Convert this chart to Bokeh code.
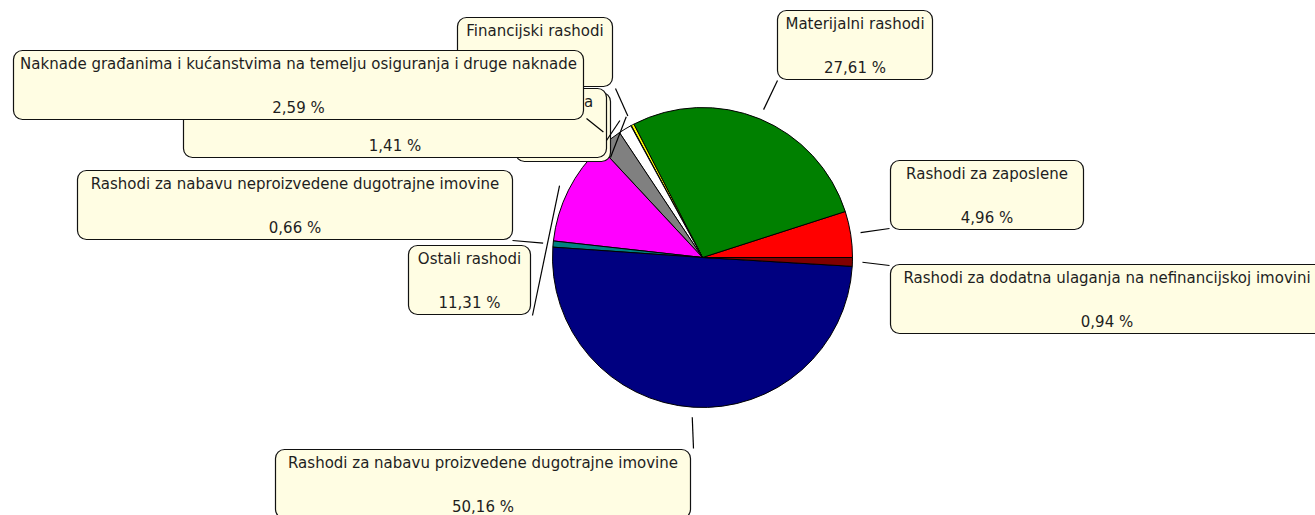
import numpy as np
from bokeh.plotting import figure
from bokeh.models import Range1d
from bokeh.core.properties import value
from bokeh.embed import file_html
from bokeh.resources import INLINE

# ---- data ----
categories = [
    "Rashodi za zaposlene",
    "Materijalni rashodi",
    "Financijski rashodi",
    "Subvencije",
    "Pomoći dane u inozemstvo i unutar općeg proračuna",
    "Naknade građanima i kućanstvima na temelju osiguranja i druge naknade",
    "Ostali rashodi",
    "Rashodi za nabavu neproizvedene dugotrajne imovine",
    "Rashodi za nabavu proizvedene dugotrajne imovine",
    "Rashodi za dodatna ulaganja na nefinancijskoj imovini",
]
shares = [4.96, 27.61, 0.31, 0.05, 1.41, 2.59, 11.31, 0.66, 50.16, 0.94]
colors = ["#FF0000", "#008000", "#FFFF00", "#00FFFF", "#FFFFFF",
          "#808080", "#FF00FF", "#008080", "#000080", "#800000"]

# ---- layout (picture pixel coordinates) ----
W, H = 1315, 515
def dx(px):
    return px
def dy(py):
    return H - py

CX, CY, R = 702, 257, 150
BOX_H = 69
# label box: (left, top, right), leader end point; listed in drawing order
box_layout = {
    "Financijski rashodi": ((457, 17, 612), (615, 88)),
    "Subvencije": ((515, 92, 610), (610, 157)),
    "Pomoći dane u inozemstvo i unutar općeg proračuna": ((183, 88, 606), (606, 140)),
    "Naknade građanima i kućanstvima na temelju osiguranja i druge naknade": ((13, 50, 583), (586, 118)),
    "Materijalni rashodi": ((777, 10, 932), (777, 80)),
    "Rashodi za zaposlene": ((890, 160, 1083), (889, 228)),
    "Rashodi za dodatna ulaganja na nefinancijskoj imovini": ((890, 264, 1323), (889, 265)),
    "Rashodi za nabavu neproizvedene dugotrajne imovine": ((77, 170, 512), (512, 240)),
    "Ostali rashodi": ((408, 245, 530), (532, 315)),
    "Rashodi za nabavu proizvedene dugotrajne imovine": ((275, 449, 690), (693, 448)),
}

p = figure(width=W, height=H, output_backend="svg", toolbar_location=None,
           x_range=Range1d(0, W), y_range=Range1d(0, H), min_border=0,
           background_fill_color="white", border_fill_color="white")
p.axis.visible = False
p.grid.visible = False
p.outline_line_color = None

# ---- pie ----
vals = np.array(shares, dtype=float)
frac = vals / vals.sum()
ends = np.cumsum(frac) * 2 * np.pi
starts = np.concatenate([[0.0], ends[:-1]])
p.wedge(x=dx(CX), y=dy(CY), radius=R, start_angle=starts, end_angle=ends,
        direction="anticlock", fill_color=colors, line_color="black", line_width=1)

mids = dict(zip(categories, (starts + ends) / 2))
pct = {c: f"{v:.2f} %".replace(".", ",") for c, v in zip(categories, shares)}

FONT = value("DejaVu Sans")
FS = value("15px")
for name, ((l, t, r), _) in box_layout.items():
    p.quad(left=dx(l), right=dx(r), top=dy(t), bottom=dy(t + BOX_H),
           fill_color="#FFFDE3", line_color="#111111", line_width=1.2,
           border_radius=9)
    xc = dx((l + r) / 2)
    p.text(x=[xc, xc], y=[dy(t + 13), dy(t + 57)], text=[name, pct[name]],
           text_align="center", text_baseline="middle", text_font=FONT,
           text_font_size=FS, text_color="#1e1e1e")

# ---- leader lines ----
x0, y0, x1, y1 = [], [], [], []
for name, (_, (ex, ey)) in box_layout.items():
    a = mids[name]
    x0.append(dx(CX) + 160 * np.cos(a))
    y0.append(dy(CY) + 160 * np.sin(a))
    x1.append(dx(ex))
    y1.append(dy(ey))
p.segment(x0=x0, y0=y0, x1=x1, y1=y1, line_color="black", line_width=1.2)

open("out.html", "w").write(file_html(p, INLINE))
